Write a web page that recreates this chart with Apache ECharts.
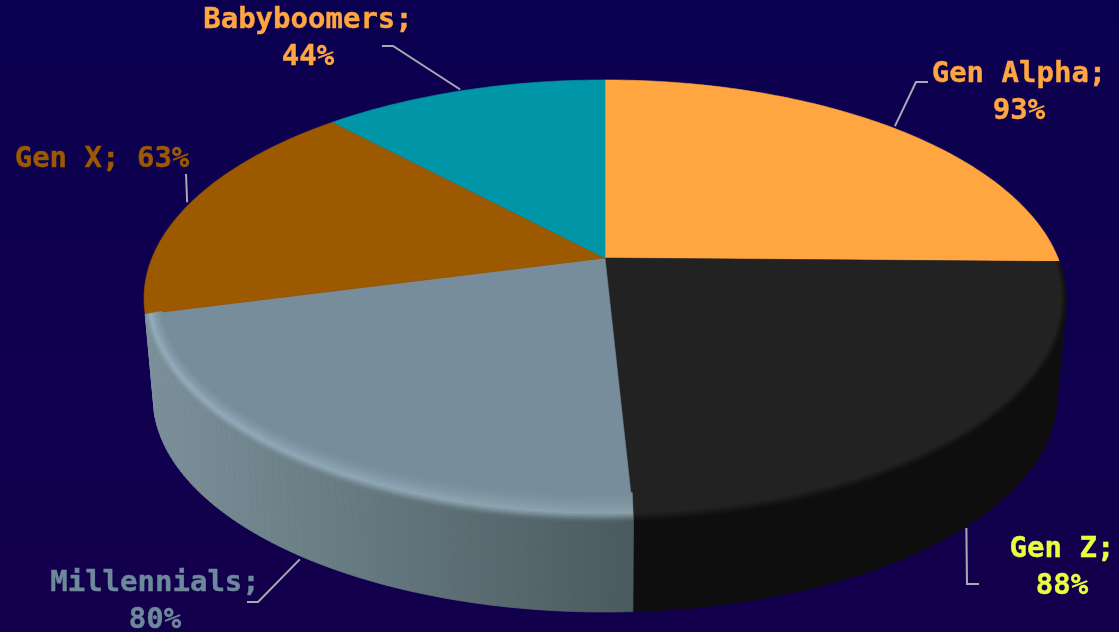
<!DOCTYPE html>
<html>
<head>
<meta charset="utf-8">
<style>html,body{margin:0;padding:0;background:#0c0050}#chart{width:1119px;height:632px}</style>
<script src="https://cdn.jsdelivr.net/npm/echarts@6/dist/echarts.min.js"></script>
</head>
<body>
<div id="chart"></div>
<script>
// Share of each generation, drawn clockwise from twelve o'clock.
const generations = ['Gen Alpha', 'Gen Z', 'Millennials', 'Gen X', 'Babyboomers'];
const shares = [93, 88, 80, 63, 44];

// Styling per slice.
const faceColors = ['#ffa640', '#222222', '#778d9b', '#9c5900', '#0096a8'];
const labelColors = ['#ffa640', '#e8ff3e', '#6f899c', '#9c5900', '#ffa640'];
const wallFar = [null, '#101010', '#7c919b', null, null];
const wallNear = [null, '#0e0e0e', '#4a5b5f', null, null];
const rimPeakFar = [null, '#222222', '#94aebe', null, null];
const rimPeakNear = [null, '#222222', '#8ba0aa', null, null];

// Label placement: anchor, line breaks, leader route from the slice's own anchor point.
const labelAnchors = [[1019, 93], [1062, 568], [155, 602], [102, 159], [308, 39]];
const labelBreak = [true, true, true, false, true];
const leaderNudges = [[4, -1], [-5, 5], [3, 5], [-4, 0], [-3, -1]];
const leaderRoutes = [
  [[916, 82], [928, 82]],
  [[967, 584], [979, 584]],
  [[258, 602], [247, 602]],
  [[186, 174]],
  [[393, 46], [382, 46]]
];
const leaderOnBase = [false, true, true, false, false];

// Perspective disc: top face and the slightly smaller base beneath it.
const topDisc = { cx: 605, cy: 258, a: 453, b: 211, k: 0.185 };
const baseDisc = { cx: 605, cy: 358, a: 444, b: 207, k: 0.185 };
const shadeFromX = 150, shadeToX = 633;

function project(disc, deg, r) {
  const t = deg * Math.PI / 180;
  const s = Math.sin(t) * r, c = Math.cos(t) * r;
  const d = 1 + disc.k * c;
  return [disc.cx + disc.a * s / d, disc.cy - disc.b * c / d];
}

// Bevel contour between the inner edge (u = 0) and the outer rim (u = 1).
function bevelPoint(deg, u) {
  const p = project(topDisc, deg, 1 - 0.035 * (1 - u));
  const front = Math.max(0, -Math.cos(deg * Math.PI / 180));
  p[1] += (5 * u - 13 * (1 - u)) * front * front;
  return p;
}

const total = shares.reduce((a, b) => a + b, 0);
const toDeg = v => echarts.number.linearMap(v, [0, total], [0, 360]);
const starts = [];
shares.reduce((acc, v, i) => { starts[i] = acc; return acc + v; }, 0);

// Colour running left to right across the front of the disc.
function shade(far, near) {
  return new echarts.graphic.LinearGradient(shadeFromX, 0, shadeToX, 0, [
    { offset: 0, color: far }, { offset: 1, color: near }
  ], true);
}

function rimColor(i, u, end) {
  const wall = end === 0 ? wallFar[i] : wallNear[i];
  const peak = end === 0 ? rimPeakFar[i] : rimPeakNear[i];
  return u < 0.7
    ? echarts.color.lerp(Math.pow(u / 0.7, 1.5), [faceColors[i], peak])
    : echarts.color.lerp((u - 0.7) / 0.3, [peak, wall]);
}

function renderSlice(params, api) {
  const i = params.dataIndex;
  const value = api.value(0);
  const from = toDeg(starts[i]), to = toDeg(starts[i] + value);
  const children = [];
  const angles = [];
  for (let d = from; d < to; d += 1) angles.push(d);
  angles.push(to);

  // Side wall, built from thin strips so the silhouette follows both rims.
  if (wallFar[i]) {
    const fill = shade(wallFar[i], wallNear[i]);
    for (let j = 0; j < angles.length - 1; j++) {
      children.push({
        type: 'polygon', z2: 1, silent: true,
        shape: { points: [
          project(topDisc, angles[j], 1), project(topDisc, angles[j + 1], 1),
          project(baseDisc, angles[j + 1], 1), project(baseDisc, angles[j], 1)
        ] },
        style: { fill: fill, stroke: fill, lineWidth: 0.8 }
      });
    }
  }

  // Top face.
  const face = [[topDisc.cx, topDisc.cy]];
  angles.forEach(d => face.push(project(topDisc, d, 1)));
  children.push({
    type: 'polygon', z2: 2, silent: true,
    shape: { points: face },
    style: { fill: faceColors[i], stroke: faceColors[i], lineWidth: 0.6 }
  });

  // Bevel along the front rim, inner layers first.
  if (rimPeakFar[i]) {
    const layers = 18;
    for (let l = 0; l < layers; l++) {
      const u0 = l / layers, u1 = (l + 1) / layers, um = (u0 + u1) / 2;
      const pts = angles.map(d => bevelPoint(d, u0))
        .concat(angles.slice().reverse().map(d => bevelPoint(d, u1)));
      const fill = shade(rimColor(i, um, 0), rimColor(i, um, 1));
      children.push({
        type: 'polygon', z2: 3, silent: true,
        shape: { points: pts },
        style: { fill: fill, stroke: fill, lineWidth: 0.5 }
      });
    }
  }

  // Leader line from the slice's mid angle.
  const midAngle = (from + to) / 2;
  const anchor = project(leaderOnBase[i] ? baseDisc : topDisc, midAngle, 1);
  anchor[0] += leaderNudges[i][0];
  anchor[1] += leaderNudges[i][1];
  children.push({
    type: 'polyline', z2: 4, silent: true,
    shape: { points: [anchor].concat(leaderRoutes[i]) },
    style: { fill: null, stroke: '#a9a9b4', lineWidth: 2 }
  });

  // Label.
  const sep = labelBreak[i] ? ';\n' : '; ';
  children.push({
    type: 'text', z2: 5, silent: true,
    x: labelAnchors[i][0], y: labelAnchors[i][1],
    style: {
      text: generations[i] + sep + value + '%',
      fill: labelColors[i],
      stroke: labelColors[i],
      lineWidth: 0.4,
      font: 'bold 29px "DejaVu Sans Mono", monospace',
      lineHeight: 37,
      align: 'center',
      verticalAlign: 'middle'
    }
  });
  return { type: 'group', children };
}

const chart = echarts.init(document.getElementById('chart'), null, { renderer: 'canvas' });
chart.setOption({
  animation: false,
  backgroundColor: new echarts.graphic.LinearGradient(0, 0, 0, 1, [
    { offset: 0, color: '#0b0050' },
    { offset: 1, color: '#13004c' }
  ]),
  series: [{
    type: 'custom',
    coordinateSystem: 'none',
    renderItem: renderSlice,
    data: shares.map((v, i) => ({ name: generations[i], value: [v] }))
  }]
});
</script>
</body>
</html>
